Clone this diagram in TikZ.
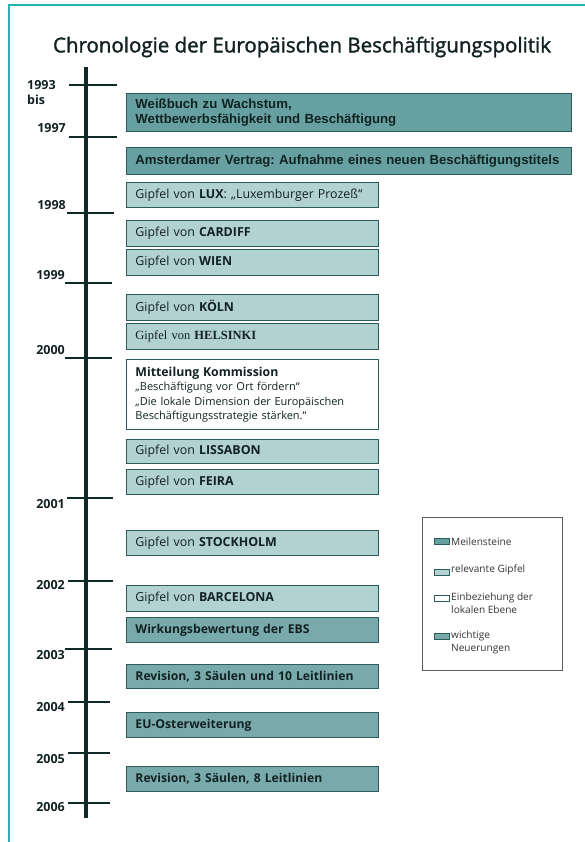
\documentclass[tikz,border=0pt]{standalone}
\usepackage{fontspec}
\setmainfont{Open Sans}
\newfontfamily\arialf{Liberation Sans}
\newfontfamily\timesf{Liberation Serif}
\newfontfamily\titlef[FakeBold=1.6]{Open Sans}
\frenchspacing
\definecolor{frameC}{HTML}{22B5B5}
\definecolor{barC}{HTML}{0F2828}
\definecolor{mileC}{HTML}{66A0A1}
\definecolor{neuC}{HTML}{78AAAC}
\definecolor{gipC}{HTML}{B2D1D1}
\definecolor{bordC}{HTML}{2D5A5A}
\definecolor{txtC}{HTML}{122222}
\definecolor{legC}{HTML}{333333}
\tikzset{
  boxbase/.style={draw=bordC, line width=0.9pt, anchor=north west, inner xsep=9pt, inner ysep=0pt, align=left, text=txtC},
  wide/.style={boxbase, text width=427pt},
  narrow/.style={boxbase, text width=234pt},
  milebox/.style={fill=mileC, font=\arialf\bfseries\fontsize{13.2}{15}\selectfont},
  neubox/.style={fill=neuC, font=\bfseries\fontsize{12.2}{14}\selectfont},
  gipbox/.style={fill=gipC, font=\fontsize{12.4}{14}\selectfont},
  mittbox/.style={fill=white, font=\fontsize{11}{14.5}\selectfont},
  tickline/.style={draw=barC, line width=2.4pt},
  yearlbl/.style={anchor=east, inner sep=0pt, font=\bfseries\fontsize{12.5}{14}\selectfont, text=txtC},
  legtxt/.style={anchor=west, inner sep=0pt, align=left, font=\fontsize{10.1}{12.5}\selectfont, text=legC},
  swatch/.style={draw=bordC, line width=0.7pt}
}
\begin{document}
\begin{tikzpicture}[x=1pt,y=-1pt]
\useasboundingbox (0,0) rectangle (585,842);
% frame
\draw[frameC, line width=2.6pt] (9,842) -- (9,5) -- (585,5);
% title
\node[font=\titlef\fontsize{20.5}{24}\selectfont, text=txtC] (title) at (302,47) {Chronologie der Europäischen Beschäftigungspolitik};
% timeline bar
\coordinate (bartop) at (86,67);
\coordinate (barbot) at (86,818);
\draw[draw=barC, line width=4.5pt] (bartop) -- (barbot);
% ticks
\foreach \yy/\xa/\xb in {85/69/117,137/69/117,213/67/114,283/65/112,358/65/112,498/67/113,581/68/113,649/65/112,702/68/110,753/68/110,803/68/110}{
  \draw[tickline] (\xa,\yy) -- (\xb,\yy);
}
% year labels
\node[anchor=west, inner sep=0pt, font=\bfseries\fontsize{12.5}{14}\selectfont, text=txtC] (y1993) at (27,85) {1993};
\node[anchor=west, inner sep=0pt, font=\bfseries\fontsize{12.5}{14}\selectfont, text=txtC] (ybis) at (27,100) {bis};
\node[yearlbl] (y1997) at (66,128) {1997};
\node[yearlbl] (y1998) at (66,205) {1998};
\node[yearlbl] (y1999) at (65,275) {1999};
\node[yearlbl] (y2000) at (65,350) {2000};
\node[yearlbl] (y2001) at (65,504) {2001};
\node[yearlbl] (y2002) at (65,585) {2002};
\node[yearlbl] (y2003) at (65,655) {2003};
\node[yearlbl] (y2004) at (65,707) {2004};
\node[yearlbl] (y2005) at (65,759) {2005};
\node[yearlbl] (y2006) at (65,807) {2006};
% boxes
\node[wide, milebox, minimum height=38pt] (weiss) at (126,93) {Weißbuch zu Wachstum,\\Wettbewerbsfähigkeit und Beschäftigung};
\node[wide, milebox, minimum height=27pt] (amst) at (126,147) {Amsterdamer Vertrag: Aufnahme eines neuen Beschäftigungstitels};
\node[narrow, gipbox, minimum height=25pt] (lux) at (126,182) {Gipfel von \textbf{LUX}: „Luxemburger Prozeß“};
\node[narrow, gipbox, minimum height=26pt] (cardiff) at (126,220) {Gipfel von \textbf{CARDIFF}};
\node[narrow, gipbox, minimum height=26pt] (wien) at (126,249) {Gipfel von \textbf{WIEN}};
\node[narrow, gipbox, minimum height=26pt] (koeln) at (126,294) {Gipfel von \textbf{KÖLN}};
\node[narrow, gipbox, minimum height=26pt, font=\timesf\fontsize{12.5}{14}\selectfont] (helsinki) at (126,323) {Gipfel von \textbf{HELSINKI}};
\node[narrow, mittbox, minimum height=70pt] (mitt) at (126,359) {{\bfseries\fontsize{12.3}{14}\selectfont Mitteilung Kommission}\\„Beschäftigung vor Ort fördern“\\„Die lokale Dimension der Europäischen\\Beschäftigungsstrategie stärken.“};
\node[narrow, gipbox, minimum height=24pt] (lissabon) at (126,439) {Gipfel von \textbf{LISSABON}};
\node[narrow, gipbox, minimum height=25pt] (feira) at (126,469) {Gipfel von \textbf{FEIRA}};
\node[narrow, gipbox, minimum height=25pt] (stockholm) at (126,530) {Gipfel von \textbf{STOCKHOLM}};
\node[narrow, gipbox, minimum height=26pt] (barcelona) at (126,585) {Gipfel von \textbf{BARCELONA}};
\node[narrow, neubox, minimum height=25pt] (wirkung) at (126,617) {Wirkungsbewertung der EBS};
\node[narrow, neubox, minimum height=24pt] (rev10) at (126,664) {Revision, 3 Säulen und 10 Leitlinien};
\node[narrow, neubox, minimum height=25pt] (euost) at (126,712) {EU-Osterweiterung};
\node[narrow, neubox, minimum height=25pt] (rev8) at (126,766) {Revision, 3 Säulen, 8 Leitlinien};
% legend
\node[draw=legC!80, line width=0.8pt, anchor=north west, minimum width=140pt, minimum height=153pt, inner sep=0pt] (legend) at (422,517) {};
\draw[swatch, fill=mileC] (434,538) rectangle (449,544);
\node[legtxt] (lg1) at (451,542) {Meilensteine};
\draw[swatch, fill=gipC] (434,569) rectangle (449,575);
\node[legtxt] (lg2) at (451,570) {relevante Gipfel};
\draw[swatch, fill=white] (434,595) rectangle (449,601);
\node[legtxt] (lg3) at (451,603) {Einbeziehung der\\lokalen Ebene};
\draw[swatch, fill=neuC] (434,633) rectangle (449,639);
\node[legtxt] (lg4) at (451,642.5) {wichtige\\Neuerungen};
\end{tikzpicture}
\end{document}
